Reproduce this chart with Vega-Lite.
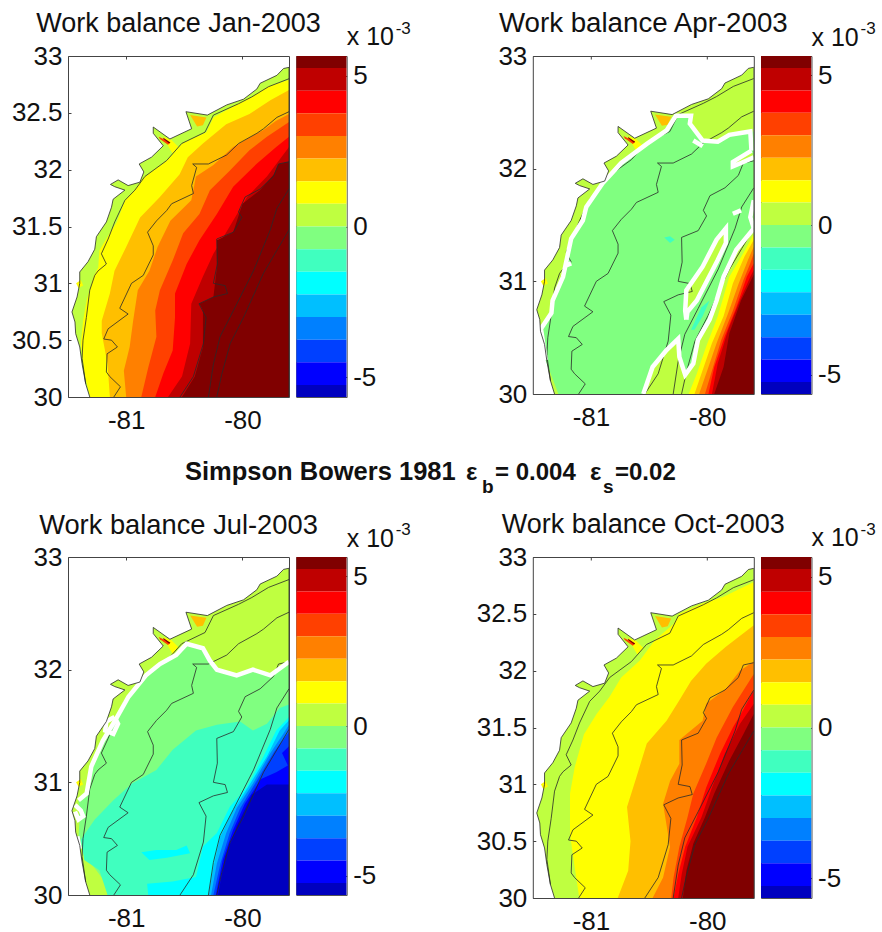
{"$schema":"https://vega.github.io/schema/vega-lite/v6.json","background":"white","padding":{"left":11,"top":10,"right":0,"bottom":0},
"config":{"view":{"stroke":null},"legend":{"disable":true},"font":"Liberation Sans","title":{"font":"Liberation Sans","fontSize":27,"fontWeight":"normal","color":"#111","offset":5},"axis":{"grid":false,"title":null,"labelFont":"Liberation Sans","labelFontSize":26,"labelColor":"#111","labelOverlap":false,"labelBound":false,"labelFlush":false,"tickSize":-3,"tickColor":"#444","domainColor":"#444","zindex":1,"labelExpr":"''+datum.value"}},
"datasets":{
"bar":[{"b":7,"lo":5.25,"hi":5.65},{"b":6,"lo":4.5,"hi":5.25},{"b":5,"lo":3.75,"hi":4.5},{"b":4,"lo":3,"hi":3.75},{"b":3,"lo":2.25,"hi":3},{"b":2,"lo":1.5,"hi":2.25},{"b":1,"lo":0.75,"hi":1.5},{"b":0,"lo":0,"hi":0.75},{"b":-1,"lo":-0.75,"hi":0},{"b":-2,"lo":-1.5,"hi":-0.75},{"b":-3,"lo":-2.25,"hi":-1.5},{"b":-4,"lo":-3,"hi":-2.25},{"b":-5,"lo":-3.75,"hi":-3},{"b":-6,"lo":-4.5,"hi":-3.75},{"b":-7,"lo":-5.25,"hi":-4.5},{"b":-8,"lo":-5.65,"hi":-5.25}],
"xt":[{"t":"x 10","u":1,"v":6.0,"k":"a"}],
"xs":[{"t":"-3","u":1.97,"v":6.38,"k":"b"}],
"coast":[{"g":0,"b":0,"x":-81.313,"y":30},{"g":0,"b":0,"x":-81.348,"y":30.117},{"g":0,"b":0,"x":-81.379,"y":30.293},{"g":0,"b":0,"x":-81.399,"y":30.44},{"g":0,"b":0,"x":-81.434,"y":30.557},{"g":0,"b":0,"x":-81.44,"y":30.66},{"g":0,"b":0,"x":-81.466,"y":30.748},{"g":0,"b":0,"x":-81.422,"y":30.88},{"g":0,"b":0,"x":-81.399,"y":31.0},{"g":0,"b":0,"x":-81.399,"y":31.1},{"g":0,"b":0,"x":-81.328,"y":31.19},{"g":0,"b":0,"x":-81.27,"y":31.3},{"g":0,"b":0,"x":-81.256,"y":31.41},{"g":0,"b":0,"x":-81.17,"y":31.54},{"g":0,"b":0,"x":-81.126,"y":31.67},{"g":0,"b":0,"x":-81.112,"y":31.74},{"g":0,"b":0,"x":-81.011,"y":31.82},{"g":0,"b":0,"x":-81.098,"y":31.85},{"g":0,"b":0,"x":-81.135,"y":31.87},{"g":0,"b":0,"x":-81.069,"y":31.91},{"g":0,"b":0,"x":-80.983,"y":31.86},{"g":0,"b":0,"x":-80.882,"y":31.89},{"g":0,"b":0,"x":-80.848,"y":31.98},{"g":0,"b":0,"x":-80.888,"y":32.05},{"g":0,"b":0,"x":-80.782,"y":32.11},{"g":0,"b":0,"x":-80.681,"y":32.21},{"g":0,"b":0,"x":-80.767,"y":32.32},{"g":0,"b":0,"x":-80.767,"y":32.375},{"g":0,"b":0,"x":-80.624,"y":32.27},{"g":0,"b":0,"x":-80.437,"y":32.36},{"g":0,"b":0,"x":-80.486,"y":32.51},{"g":0,"b":0,"x":-80.302,"y":32.48},{"g":0,"b":0,"x":-80.135,"y":32.57},{"g":0,"b":0,"x":-79.991,"y":32.62},{"g":0,"b":0,"x":-79.876,"y":32.71},{"g":0,"b":0,"x":-79.848,"y":32.76},{"g":0,"b":0,"x":-79.704,"y":32.83},{"g":0,"b":0,"x":-79.647,"y":32.89},{"g":0,"b":0,"x":-79.6,"y":32.9},{"g":0,"b":0,"x":-79.6,"y":30}],
"lines":[{"g":"A","x":-81.348,"y":30.117},{"g":"A","x":-81.379,"y":30.34},{"g":"A","x":-81.371,"y":30.5},{"g":"A","x":-81.342,"y":30.7},{"g":"A","x":-81.313,"y":30.94},{"g":"A","x":-81.27,"y":31.07},{"g":"A","x":-81.241,"y":31.11},{"g":"A","x":-81.17,"y":31.17},{"g":"A","x":-81.213,"y":31.26},{"g":"A","x":-81.155,"y":31.39},{"g":"A","x":-81.098,"y":31.54},{"g":"A","x":-81.011,"y":31.73},{"g":"A","x":-80.925,"y":31.82},{"g":"A","x":-80.839,"y":31.94},{"g":"A","x":-80.652,"y":32.08},{"g":"A","x":-80.523,"y":32.23},{"g":"A","x":-80.322,"y":32.33},{"g":"A","x":-80.25,"y":32.48},{"g":"A","x":-80.034,"y":32.58},{"g":"A","x":-79.92,"y":32.64},{"g":"A","x":-79.776,"y":32.73},{"g":"A","x":-79.6,"y":32.8},
{"g":"B","x":-81.106,"y":30},{"g":"B","x":-81.049,"y":30.09},{"g":"B","x":-81.141,"y":30.18},{"g":"B","x":-81.17,"y":30.22},{"g":"B","x":-81.164,"y":30.38},{"g":"B","x":-81.075,"y":30.44},{"g":"B","x":-81.126,"y":30.5},{"g":"B","x":-81.193,"y":30.51},{"g":"B","x":-81.155,"y":30.6},{"g":"B","x":-80.983,"y":30.73},{"g":"B","x":-81.055,"y":30.78},{"g":"B","x":-80.954,"y":31.0},{"g":"B","x":-80.853,"y":31.07},{"g":"B","x":-80.767,"y":31.25},{"g":"B","x":-80.767,"y":31.33},{"g":"B","x":-80.816,"y":31.45},{"g":"B","x":-80.739,"y":31.55},{"g":"B","x":-80.652,"y":31.64},{"g":"B","x":-80.609,"y":31.7},{"g":"B","x":-80.422,"y":31.79},{"g":"B","x":-80.437,"y":31.86},{"g":"B","x":-80.394,"y":32.02},{"g":"B","x":-80.428,"y":32.05},{"g":"B","x":-80.293,"y":32.05},{"g":"B","x":-80.135,"y":32.13},{"g":"B","x":-80.034,"y":32.23},{"g":"B","x":-79.876,"y":32.32},{"g":"B","x":-79.819,"y":32.36},{"g":"B","x":-79.704,"y":32.46},{"g":"B","x":-79.6,"y":32.51},
{"g":"C","x":-80.537,"y":30},{"g":"C","x":-80.422,"y":30.18},{"g":"C","x":-80.336,"y":30.47},{"g":"C","x":-80.313,"y":30.7},{"g":"C","x":-80.374,"y":30.82},{"g":"C","x":-80.25,"y":30.88},{"g":"C","x":-80.129,"y":30.91},{"g":"C","x":-80.149,"y":30.98},{"g":"C","x":-80.25,"y":31.0},{"g":"C","x":-80.216,"y":31.17},{"g":"C","x":-80.221,"y":31.39},{"g":"C","x":-80.078,"y":31.45},{"g":"C","x":-80.006,"y":31.58},{"g":"C","x":-80.034,"y":31.63},{"g":"C","x":-79.977,"y":31.76},{"g":"C","x":-79.848,"y":31.83},{"g":"C","x":-79.733,"y":31.94},{"g":"C","x":-79.69,"y":32.05},{"g":"C","x":-79.6,"y":32.07},
{"g":"D","x":-80.293,"y":30},{"g":"D","x":-80.25,"y":30.29},{"g":"D","x":-80.193,"y":30.53},{"g":"D","x":-80.078,"y":30.76},{"g":"D","x":-79.905,"y":31.11},{"g":"D","x":-79.761,"y":31.47},{"g":"D","x":-79.704,"y":31.66},{"g":"D","x":-79.6,"y":31.83},
{"g":"E","x":-80.221,"y":30},{"g":"E","x":-80.178,"y":30.2},{"g":"E","x":-80.106,"y":30.47},{"g":"E","x":-79.991,"y":30.7},{"g":"E","x":-79.819,"y":31.09},{"g":"E","x":-79.704,"y":31.29},{"g":"E","x":-79.6,"y":31.47}],
"spots":[{"g":1,"b":2,"x":-80.45,"y":32.48},{"g":1,"b":2,"x":-80.31,"y":32.46},{"g":1,"b":2,"x":-80.34,"y":32.39},{"g":1,"b":2,"x":-80.39,"y":32.38},
{"g":2,"b":1,"x":-80.68,"y":32.29},{"g":2,"b":1,"x":-80.61,"y":32.26},{"g":2,"b":1,"x":-80.55,"y":32.2},{"g":2,"b":1,"x":-80.6,"y":32.14},{"g":2,"b":1,"x":-80.64,"y":32.21},
{"g":3,"b":4,"x":-80.72,"y":32.29},{"g":3,"b":4,"x":-80.62,"y":32.24},{"g":3,"b":4,"x":-80.64,"y":32.22},{"g":3,"b":4,"x":-80.71,"y":32.27},
{"g":4,"b":7,"x":-80.68,"y":32.28},{"g":4,"b":7,"x":-80.62,"y":32.24},{"g":4,"b":7,"x":-80.63,"y":32.23},{"g":4,"b":7,"x":-80.68,"y":32.27},
{"g":5,"b":1,"x":-81.43,"y":31.0},{"g":5,"b":1,"x":-81.39,"y":31.03},{"g":5,"b":1,"x":-81.37,"y":30.98},{"g":5,"b":1,"x":-81.41,"y":30.96}],
"jan":[{"g":1,"b":1,"x":-81.31,"y":30},{"g":1,"b":1,"x":-81.36,"y":30.21},{"g":1,"b":1,"x":-81.39,"y":30.47},{"g":1,"b":1,"x":-81.37,"y":30.67},{"g":1,"b":1,"x":-81.34,"y":30.85},{"g":1,"b":1,"x":-81.28,"y":31.06},{"g":1,"b":1,"x":-81.24,"y":31.14},{"g":1,"b":1,"x":-81.23,"y":31.29},{"g":1,"b":1,"x":-81.16,"y":31.41},{"g":1,"b":1,"x":-81.08,"y":31.54},{"g":1,"b":1,"x":-81.01,"y":31.73},{"g":1,"b":1,"x":-80.93,"y":31.82},{"g":1,"b":1,"x":-80.84,"y":31.94},{"g":1,"b":1,"x":-80.65,"y":32.08},{"g":1,"b":1,"x":-80.52,"y":32.23},{"g":1,"b":1,"x":-80.31,"y":32.33},{"g":1,"b":1,"x":-80.25,"y":32.46},{"g":1,"b":1,"x":-80.04,"y":32.58},{"g":1,"b":1,"x":-79.92,"y":32.64},{"g":1,"b":1,"x":-79.78,"y":32.73},{"g":1,"b":1,"x":-79.6,"y":32.79},{"g":1,"b":1,"x":-79.6,"y":30},
{"g":2,"b":2,"x":-81.14,"y":30},{"g":2,"b":2,"x":-81.16,"y":30.29},{"g":2,"b":2,"x":-81.21,"y":30.56},{"g":2,"b":2,"x":-81.21,"y":30.67},{"g":2,"b":2,"x":-81.14,"y":30.91},{"g":2,"b":2,"x":-81.1,"y":31.11},{"g":2,"b":2,"x":-81.0,"y":31.32},{"g":2,"b":2,"x":-80.88,"y":31.58},{"g":2,"b":2,"x":-80.71,"y":31.76},{"g":2,"b":2,"x":-80.54,"y":31.96},{"g":2,"b":2,"x":-80.47,"y":32.11},{"g":2,"b":2,"x":-80.34,"y":32.23},{"g":2,"b":2,"x":-80.14,"y":32.4},{"g":2,"b":2,"x":-79.94,"y":32.49},{"g":2,"b":2,"x":-79.76,"y":32.61},{"g":2,"b":2,"x":-79.6,"y":32.7},{"g":2,"b":2,"x":-79.6,"y":30},
{"g":3,"b":3,"x":-81.0,"y":30},{"g":3,"b":3,"x":-81.02,"y":30.23},{"g":3,"b":3,"x":-80.97,"y":30.44},{"g":3,"b":3,"x":-80.94,"y":30.67},{"g":3,"b":3,"x":-80.9,"y":30.94},{"g":3,"b":3,"x":-80.8,"y":31.11},{"g":3,"b":3,"x":-80.73,"y":31.32},{"g":3,"b":3,"x":-80.62,"y":31.55},{"g":3,"b":3,"x":-80.44,"y":31.73},{"g":3,"b":3,"x":-80.4,"y":31.94},{"g":3,"b":3,"x":-80.25,"y":32.04},{"g":3,"b":3,"x":-80.08,"y":32.2},{"g":3,"b":3,"x":-79.82,"y":32.35},{"g":3,"b":3,"x":-79.71,"y":32.43},{"g":3,"b":3,"x":-79.6,"y":32.49},{"g":3,"b":3,"x":-79.6,"y":30},
{"g":4,"b":4,"x":-80.87,"y":30},{"g":4,"b":4,"x":-80.81,"y":30.26},{"g":4,"b":4,"x":-80.74,"y":30.53},{"g":4,"b":4,"x":-80.75,"y":30.76},{"g":4,"b":4,"x":-80.71,"y":30.94},{"g":4,"b":4,"x":-80.6,"y":31.2},{"g":4,"b":4,"x":-80.51,"y":31.44},{"g":4,"b":4,"x":-80.37,"y":31.61},{"g":4,"b":4,"x":-80.28,"y":31.82},{"g":4,"b":4,"x":-80.11,"y":31.99},{"g":4,"b":4,"x":-79.94,"y":32.17},{"g":4,"b":4,"x":-79.79,"y":32.29},{"g":4,"b":4,"x":-79.6,"y":32.42},{"g":4,"b":4,"x":-79.6,"y":30},
{"g":5,"b":5,"x":-80.75,"y":30},{"g":5,"b":5,"x":-80.68,"y":30.21},{"g":5,"b":5,"x":-80.6,"y":30.41},{"g":5,"b":5,"x":-80.58,"y":30.7},{"g":5,"b":5,"x":-80.58,"y":30.91},{"g":5,"b":5,"x":-80.48,"y":31.17},{"g":5,"b":5,"x":-80.37,"y":31.38},{"g":5,"b":5,"x":-80.22,"y":31.61},{"g":5,"b":5,"x":-80.08,"y":31.85},{"g":5,"b":5,"x":-79.88,"y":32.05},{"g":5,"b":5,"x":-79.71,"y":32.2},{"g":5,"b":5,"x":-79.6,"y":32.29},{"g":5,"b":5,"x":-79.6,"y":30},
{"g":6,"b":6,"x":-80.64,"y":30},{"g":6,"b":6,"x":-80.52,"y":30.18},{"g":6,"b":6,"x":-80.45,"y":30.47},{"g":6,"b":6,"x":-80.44,"y":30.82},{"g":6,"b":6,"x":-80.34,"y":31.06},{"g":6,"b":6,"x":-80.25,"y":31.26},{"g":6,"b":6,"x":-80.11,"y":31.5},{"g":6,"b":6,"x":-79.96,"y":31.76},{"g":6,"b":6,"x":-79.79,"y":31.94},{"g":6,"b":6,"x":-79.6,"y":32.2},{"g":6,"b":6,"x":-79.6,"y":30},
{"g":7,"b":7,"x":-80.52,"y":30},{"g":7,"b":7,"x":-80.41,"y":30.18},{"g":7,"b":7,"x":-80.34,"y":30.44},{"g":7,"b":7,"x":-80.34,"y":30.76},{"g":7,"b":7,"x":-80.37,"y":30.82},{"g":7,"b":7,"x":-80.25,"y":30.88},{"g":7,"b":7,"x":-80.22,"y":31.14},{"g":7,"b":7,"x":-80.22,"y":31.38},{"g":7,"b":7,"x":-80.08,"y":31.45},{"g":7,"b":7,"x":-80.0,"y":31.7},{"g":7,"b":7,"x":-79.85,"y":31.82},{"g":7,"b":7,"x":-79.73,"y":31.96},{"g":7,"b":7,"x":-79.69,"y":32.05},{"g":7,"b":7,"x":-79.6,"y":32.07},{"g":7,"b":7,"x":-79.6,"y":30}],
"apr":[{"g":1,"b":-1,"x":-81.28,"y":30},{"g":1,"b":-1,"x":-81.39,"y":30.3},{"g":1,"b":-1,"x":-81.43,"y":30.58},{"g":1,"b":-1,"x":-81.34,"y":30.72},{"g":1,"b":-1,"x":-81.33,"y":30.83},{"g":1,"b":-1,"x":-81.24,"y":31.04},{"g":1,"b":-1,"x":-81.17,"y":31.38},{"g":1,"b":-1,"x":-81.07,"y":31.54},{"g":1,"b":-1,"x":-81.04,"y":31.66},{"g":1,"b":-1,"x":-80.9,"y":31.87},{"g":1,"b":-1,"x":-80.74,"y":32.05},{"g":1,"b":-1,"x":-80.52,"y":32.22},{"g":1,"b":-1,"x":-80.35,"y":32.34},{"g":1,"b":-1,"x":-80.27,"y":32.47},{"g":1,"b":-1,"x":-80.14,"y":32.47},{"g":1,"b":-1,"x":-80.15,"y":32.4},{"g":1,"b":-1,"x":-80.04,"y":32.25},{"g":1,"b":-1,"x":-79.91,"y":32.24},{"g":1,"b":-1,"x":-79.81,"y":32.3},{"g":1,"b":-1,"x":-79.6,"y":32.33},{"g":1,"b":-1,"x":-79.6,"y":31.47},{"g":1,"b":-1,"x":-79.75,"y":31.28},{"g":1,"b":-1,"x":-79.86,"y":31.04},{"g":1,"b":-1,"x":-79.92,"y":30.83},{"g":1,"b":-1,"x":-79.98,"y":30.66},{"g":1,"b":-1,"x":-80.08,"y":30.48},{"g":1,"b":-1,"x":-80.12,"y":30.27},{"g":1,"b":-1,"x":-80.19,"y":30.17},{"g":1,"b":-1,"x":-80.24,"y":30.33},{"g":1,"b":-1,"x":-80.25,"y":30.49},{"g":1,"b":-1,"x":-80.35,"y":30.39},{"g":1,"b":-1,"x":-80.47,"y":30.24},{"g":1,"b":-1,"x":-80.55,"y":30},
{"g":2,"b":0,"x":-80.18,"y":30.66},{"g":2,"b":0,"x":-80.19,"y":30.74},{"g":2,"b":0,"x":-80.18,"y":30.92},{"g":2,"b":0,"x":-80.04,"y":31.13},{"g":2,"b":0,"x":-79.92,"y":31.37},{"g":2,"b":0,"x":-79.84,"y":31.47},{"g":2,"b":0,"x":-79.84,"y":31.34},{"g":2,"b":0,"x":-79.91,"y":31.19},{"g":2,"b":0,"x":-80.09,"y":30.83},{"g":2,"b":0,"x":-80.17,"y":30.73},
{"g":3,"b":0,"x":-79.78,"y":32.06},{"g":3,"b":0,"x":-79.62,"y":32.16},{"g":3,"b":0,"x":-79.6,"y":32.1},{"g":3,"b":0,"x":-79.71,"y":32.05},{"g":3,"b":0,"x":-79.78,"y":32.02},
{"g":4,"b":-2,"x":-80.14,"y":30.57},{"g":4,"b":-2,"x":-80.05,"y":30.77},{"g":4,"b":-2,"x":-79.98,"y":30.83},{"g":4,"b":-2,"x":-80.04,"y":30.69},{"g":4,"b":-2,"x":-80.11,"y":30.57},
{"g":5,"b":-2,"x":-80.37,"y":31.39},{"g":5,"b":-2,"x":-80.32,"y":31.4},{"g":5,"b":-2,"x":-80.28,"y":31.37},{"g":5,"b":-2,"x":-80.32,"y":31.34},
{"g":6,"b":1,"x":-80.16,"y":30},{"g":6,"b":1,"x":-80.09,"y":30.18},{"g":6,"b":1,"x":-80.01,"y":30.42},{"g":6,"b":1,"x":-79.91,"y":30.69},{"g":6,"b":1,"x":-79.81,"y":31.04},{"g":6,"b":1,"x":-79.69,"y":31.25},{"g":6,"b":1,"x":-79.6,"y":31.42},{"g":6,"b":1,"x":-79.6,"y":30},
{"g":7,"b":2,"x":-80.11,"y":30},{"g":7,"b":2,"x":-80.04,"y":30.21},{"g":7,"b":2,"x":-79.96,"y":30.45},{"g":7,"b":2,"x":-79.86,"y":30.69},{"g":7,"b":2,"x":-79.78,"y":30.98},{"g":7,"b":2,"x":-79.68,"y":31.22},{"g":7,"b":2,"x":-79.6,"y":31.37},{"g":7,"b":2,"x":-79.6,"y":30},
{"g":8,"b":3,"x":-80.07,"y":30},{"g":8,"b":3,"x":-79.99,"y":30.24},{"g":8,"b":3,"x":-79.92,"y":30.45},{"g":8,"b":3,"x":-79.82,"y":30.72},{"g":8,"b":3,"x":-79.73,"y":30.98},{"g":8,"b":3,"x":-79.65,"y":31.19},{"g":8,"b":3,"x":-79.6,"y":31.31},{"g":8,"b":3,"x":-79.6,"y":30},
{"g":9,"b":4,"x":-80.02,"y":30},{"g":9,"b":4,"x":-79.95,"y":30.24},{"g":9,"b":4,"x":-79.88,"y":30.48},{"g":9,"b":4,"x":-79.78,"y":30.74},{"g":9,"b":4,"x":-79.69,"y":31.01},{"g":9,"b":4,"x":-79.63,"y":31.16},{"g":9,"b":4,"x":-79.6,"y":31.25},{"g":9,"b":4,"x":-79.6,"y":30},
{"g":10,"b":5,"x":-79.99,"y":30},{"g":10,"b":5,"x":-79.94,"y":30.24},{"g":10,"b":5,"x":-79.85,"y":30.51},{"g":10,"b":5,"x":-79.75,"y":30.77},{"g":10,"b":5,"x":-79.66,"y":31.04},{"g":10,"b":5,"x":-79.6,"y":31.16},{"g":10,"b":5,"x":-79.6,"y":30},
{"g":11,"b":6,"x":-79.96,"y":30},{"g":11,"b":6,"x":-79.91,"y":30.27},{"g":11,"b":6,"x":-79.82,"y":30.57},{"g":11,"b":6,"x":-79.72,"y":30.83},{"g":11,"b":6,"x":-79.63,"y":31.04},{"g":11,"b":6,"x":-79.6,"y":31.1},{"g":11,"b":6,"x":-79.6,"y":30},
{"g":12,"b":7,"x":-79.94,"y":30},{"g":12,"b":7,"x":-79.86,"y":30.24},{"g":12,"b":7,"x":-79.81,"y":30.54},{"g":12,"b":7,"x":-79.71,"y":30.83},{"g":12,"b":7,"x":-79.6,"y":31.06},{"g":12,"b":7,"x":-79.6,"y":30}],
"wapr":[{"g":1,"x":-81.39,"y":30.3},{"g":1,"x":-81.43,"y":30.58},{"g":1,"x":-81.34,"y":30.72},{"g":1,"x":-81.33,"y":30.83},{"g":1,"x":-81.24,"y":31.04},{"g":1,"x":-81.17,"y":31.38},{"g":1,"x":-81.07,"y":31.54},{"g":1,"x":-81.04,"y":31.66},{"g":1,"x":-80.9,"y":31.87},{"g":1,"x":-80.74,"y":32.05},{"g":1,"x":-80.52,"y":32.22},{"g":1,"x":-80.35,"y":32.34},{"g":1,"x":-80.27,"y":32.47},{"g":1,"x":-80.14,"y":32.47},{"g":1,"x":-80.15,"y":32.4},{"g":1,"x":-80.04,"y":32.25},{"g":1,"x":-79.91,"y":32.24},{"g":1,"x":-79.81,"y":32.3},{"g":1,"x":-79.63,"y":32.33},{"g":1,"x":-79.62,"y":32.16},
{"g":2,"x":-80.12,"y":32.25},{"g":2,"x":-80.04,"y":32.2},
{"g":3,"x":-79.62,"y":32.16},{"g":3,"x":-79.78,"y":32.06},{"g":3,"x":-79.78,"y":32.02},{"g":3,"x":-79.71,"y":32.05},{"g":3,"x":-79.6,"y":32.1},
{"g":4,"x":-79.6,"y":31.47},{"g":4,"x":-79.75,"y":31.28},{"g":4,"x":-79.86,"y":31.04},{"g":4,"x":-79.92,"y":30.83},{"g":4,"x":-79.98,"y":30.66},{"g":4,"x":-80.08,"y":30.48},{"g":4,"x":-80.12,"y":30.27},{"g":4,"x":-80.19,"y":30.17},{"g":4,"x":-80.24,"y":30.33},{"g":4,"x":-80.25,"y":30.49},{"g":4,"x":-80.35,"y":30.39},{"g":4,"x":-80.47,"y":30.24},{"g":4,"x":-80.55,"y":30},
{"g":5,"x":-80.18,"y":30.66},{"g":5,"x":-80.19,"y":30.74},{"g":5,"x":-80.18,"y":30.92},{"g":5,"x":-80.04,"y":31.13},{"g":5,"x":-79.92,"y":31.37},{"g":5,"x":-79.84,"y":31.47},{"g":5,"x":-79.84,"y":31.34},{"g":5,"x":-79.91,"y":31.19},{"g":5,"x":-80.09,"y":30.83},{"g":5,"x":-80.17,"y":30.73},{"g":5,"x":-80.18,"y":30.66},
{"g":6,"x":-79.6,"y":31.72},{"g":6,"x":-79.63,"y":31.57},{"g":6,"x":-79.6,"y":31.47},
{"g":7,"x":-79.78,"y":31.6},{"g":7,"x":-79.71,"y":31.63},
{"g":8,"x":-81.22,"y":31.14},{"g":8,"x":-81.17,"y":31.16}],
"jul":[{"g":1,"b":-1,"x":-81.16,"y":30},{"g":1,"b":-1,"x":-81.17,"y":30.1},{"g":1,"b":-1,"x":-81.28,"y":30.25},{"g":1,"b":-1,"x":-81.37,"y":30.37},{"g":1,"b":-1,"x":-81.41,"y":30.52},{"g":1,"b":-1,"x":-81.4,"y":30.67},{"g":1,"b":-1,"x":-81.41,"y":30.84},{"g":1,"b":-1,"x":-81.34,"y":30.9},{"g":1,"b":-1,"x":-81.3,"y":31.14},{"g":1,"b":-1,"x":-81.2,"y":31.37},{"g":1,"b":-1,"x":-81.1,"y":31.54},{"g":1,"b":-1,"x":-80.98,"y":31.76},{"g":1,"b":-1,"x":-80.83,"y":31.95},{"g":1,"b":-1,"x":-80.71,"y":32.05},{"g":1,"b":-1,"x":-80.57,"y":32.13},{"g":1,"b":-1,"x":-80.48,"y":32.23},{"g":1,"b":-1,"x":-80.34,"y":32.19},{"g":1,"b":-1,"x":-80.28,"y":32.08},{"g":1,"b":-1,"x":-80.22,"y":32.0},{"g":1,"b":-1,"x":-80.05,"y":31.95},{"g":1,"b":-1,"x":-79.91,"y":32.0},{"g":1,"b":-1,"x":-79.76,"y":31.95},{"g":1,"b":-1,"x":-79.6,"y":32.07},{"g":1,"b":-1,"x":-79.6,"y":30},
{"g":2,"b":-2,"x":-81.16,"y":30},{"g":2,"b":-2,"x":-81.23,"y":30.22},{"g":2,"b":-2,"x":-81.36,"y":30.31},{"g":2,"b":-2,"x":-81.39,"y":30.49},{"g":2,"b":-2,"x":-81.27,"y":30.67},{"g":2,"b":-2,"x":-81.11,"y":30.84},{"g":2,"b":-2,"x":-80.95,"y":30.99},{"g":2,"b":-2,"x":-80.74,"y":31.11},{"g":2,"b":-2,"x":-80.6,"y":31.29},{"g":2,"b":-2,"x":-80.4,"y":31.46},{"g":2,"b":-2,"x":-80.22,"y":31.51},{"g":2,"b":-2,"x":-80.02,"y":31.54},{"g":2,"b":-2,"x":-79.91,"y":31.46},{"g":2,"b":-2,"x":-79.79,"y":31.52},{"g":2,"b":-2,"x":-79.68,"y":31.66},{"g":2,"b":-2,"x":-79.6,"y":31.69},{"g":2,"b":-2,"x":-79.6,"y":30},
{"g":3,"b":-3,"x":-80.81,"y":30},{"g":3,"b":-3,"x":-80.82,"y":30.1},{"g":3,"b":-3,"x":-80.6,"y":30.12},{"g":3,"b":-3,"x":-80.4,"y":30.16},{"g":3,"b":-3,"x":-80.34,"y":30.43},{"g":3,"b":-3,"x":-80.22,"y":30.55},{"g":3,"b":-3,"x":-80.11,"y":30.78},{"g":3,"b":-3,"x":-79.96,"y":30.96},{"g":3,"b":-3,"x":-79.82,"y":31.23},{"g":3,"b":-3,"x":-79.71,"y":31.46},{"g":3,"b":-3,"x":-79.6,"y":31.58},{"g":3,"b":-3,"x":-79.6,"y":30},
{"g":4,"b":-3,"x":-80.87,"y":30.38},{"g":4,"b":-3,"x":-80.74,"y":30.4},{"g":4,"b":-3,"x":-80.57,"y":30.4},{"g":4,"b":-3,"x":-80.48,"y":30.44},{"g":4,"b":-3,"x":-80.45,"y":30.37},{"g":4,"b":-3,"x":-80.65,"y":30.33},{"g":4,"b":-3,"x":-80.8,"y":30.31},
{"g":5,"b":-4,"x":-80.29,"y":30},{"g":5,"b":-4,"x":-80.25,"y":30.25},{"g":5,"b":-4,"x":-80.19,"y":30.52},{"g":5,"b":-4,"x":-80.08,"y":30.75},{"g":5,"b":-4,"x":-79.95,"y":30.96},{"g":5,"b":-4,"x":-79.79,"y":31.23},{"g":5,"b":-4,"x":-79.68,"y":31.46},{"g":5,"b":-4,"x":-79.6,"y":31.55},{"g":5,"b":-4,"x":-79.6,"y":30},
{"g":6,"b":-5,"x":-80.27,"y":30},{"g":6,"b":-5,"x":-80.22,"y":30.28},{"g":6,"b":-5,"x":-80.14,"y":30.55},{"g":6,"b":-5,"x":-80.05,"y":30.77},{"g":6,"b":-5,"x":-79.91,"y":30.99},{"g":6,"b":-5,"x":-79.76,"y":31.26},{"g":6,"b":-5,"x":-79.65,"y":31.43},{"g":6,"b":-5,"x":-79.6,"y":31.51},{"g":6,"b":-5,"x":-79.6,"y":30},
{"g":7,"b":-6,"x":-80.25,"y":30},{"g":7,"b":-6,"x":-80.19,"y":30.28},{"g":7,"b":-6,"x":-80.11,"y":30.55},{"g":7,"b":-6,"x":-80.02,"y":30.77},{"g":7,"b":-6,"x":-79.88,"y":31.01},{"g":7,"b":-6,"x":-79.73,"y":31.27},{"g":7,"b":-6,"x":-79.6,"y":31.45},{"g":7,"b":-6,"x":-79.6,"y":30},
{"g":8,"b":-7,"x":-80.23,"y":30},{"g":8,"b":-7,"x":-80.17,"y":30.31},{"g":8,"b":-7,"x":-80.08,"y":30.58},{"g":8,"b":-7,"x":-79.98,"y":30.81},{"g":8,"b":-7,"x":-79.84,"y":31.03},{"g":8,"b":-7,"x":-79.71,"y":31.09},{"g":8,"b":-7,"x":-79.61,"y":31.15},{"g":8,"b":-7,"x":-79.66,"y":31.26},{"g":8,"b":-7,"x":-79.6,"y":31.32},{"g":8,"b":-7,"x":-79.6,"y":30},
{"g":9,"b":-8,"x":-80.21,"y":30},{"g":9,"b":-8,"x":-80.15,"y":30.34},{"g":9,"b":-8,"x":-80.05,"y":30.61},{"g":9,"b":-8,"x":-79.92,"y":30.89},{"g":9,"b":-8,"x":-79.79,"y":30.98},{"g":9,"b":-8,"x":-79.6,"y":30.98},{"g":9,"b":-8,"x":-79.6,"y":30}],
"wjul":[{"g":1,"x":-81.41,"y":30.84},{"g":1,"x":-81.34,"y":30.9},{"g":1,"x":-81.3,"y":31.14},{"g":1,"x":-81.2,"y":31.37},{"g":1,"x":-81.1,"y":31.54},{"g":1,"x":-80.98,"y":31.76},{"g":1,"x":-80.83,"y":31.95},{"g":1,"x":-80.71,"y":32.05},{"g":1,"x":-80.57,"y":32.13},{"g":1,"x":-80.48,"y":32.23},{"g":1,"x":-80.34,"y":32.19},{"g":1,"x":-80.28,"y":32.08},{"g":1,"x":-80.22,"y":32.0},{"g":1,"x":-80.05,"y":31.95},{"g":1,"x":-79.91,"y":32.0},{"g":1,"x":-79.76,"y":31.95},{"g":1,"x":-79.6,"y":32.07},
{"g":2,"x":-81.44,"y":30.8},{"g":2,"x":-81.39,"y":30.75},{"g":2,"x":-81.37,"y":30.7},{"g":2,"x":-81.41,"y":30.67},{"g":2,"x":-81.44,"y":30.74},
{"g":3,"x":-81.1,"y":31.58},{"g":3,"x":-81.17,"y":31.54},{"g":3,"x":-81.18,"y":31.46},{"g":3,"x":-81.11,"y":31.43},{"g":3,"x":-81.07,"y":31.52},{"g":3,"x":-81.1,"y":31.58},
{"g":4,"x":-81.42,"y":30.52},{"g":4,"x":-81.4,"y":30.41}],
"oct":[{"g":1,"b":1,"x":-81.1,"y":30},{"g":1,"b":1,"x":-81.14,"y":30.27},{"g":1,"b":1,"x":-81.18,"y":30.56},{"g":1,"b":1,"x":-81.18,"y":30.92},{"g":1,"b":1,"x":-81.14,"y":31.15},{"g":1,"b":1,"x":-81.06,"y":31.44},{"g":1,"b":1,"x":-80.95,"y":31.62},{"g":1,"b":1,"x":-80.84,"y":31.77},{"g":1,"b":1,"x":-80.74,"y":31.94},{"g":1,"b":1,"x":-80.58,"y":32.09},{"g":1,"b":1,"x":-80.45,"y":32.27},{"g":1,"b":1,"x":-80.29,"y":32.41},{"g":1,"b":1,"x":-80.24,"y":32.5},{"g":1,"b":1,"x":-80.04,"y":32.59},{"g":1,"b":1,"x":-79.86,"y":32.65},{"g":1,"b":1,"x":-79.72,"y":32.72},{"g":1,"b":1,"x":-79.6,"y":32.78},{"g":1,"b":1,"x":-79.6,"y":30},
{"g":2,"b":2,"x":-80.77,"y":30},{"g":2,"b":2,"x":-80.68,"y":30.24},{"g":2,"b":2,"x":-80.66,"y":30.5},{"g":2,"b":2,"x":-80.69,"y":30.8},{"g":2,"b":2,"x":-80.61,"y":31.06},{"g":2,"b":2,"x":-80.52,"y":31.36},{"g":2,"b":2,"x":-80.35,"y":31.56},{"g":2,"b":2,"x":-80.24,"y":31.74},{"g":2,"b":2,"x":-80.14,"y":31.91},{"g":2,"b":2,"x":-80.01,"y":32.06},{"g":2,"b":2,"x":-79.84,"y":32.21},{"g":2,"b":2,"x":-79.6,"y":32.4},{"g":2,"b":2,"x":-79.6,"y":30},
{"g":3,"b":3,"x":-80.47,"y":30},{"g":3,"b":3,"x":-80.38,"y":30.18},{"g":3,"b":3,"x":-80.32,"y":30.45},{"g":3,"b":3,"x":-80.38,"y":30.83},{"g":3,"b":3,"x":-80.32,"y":31.03},{"g":3,"b":3,"x":-80.24,"y":31.18},{"g":3,"b":3,"x":-80.24,"y":31.39},{"g":3,"b":3,"x":-80.04,"y":31.56},{"g":3,"b":3,"x":-80.01,"y":31.71},{"g":3,"b":3,"x":-79.84,"y":31.84},{"g":3,"b":3,"x":-79.72,"y":32.0},{"g":3,"b":3,"x":-79.6,"y":32.08},{"g":3,"b":3,"x":-79.6,"y":30},
{"g":4,"b":4,"x":-80.31,"y":30},{"g":4,"b":4,"x":-80.29,"y":30.18},{"g":4,"b":4,"x":-80.24,"y":30.45},{"g":4,"b":4,"x":-80.17,"y":30.71},{"g":4,"b":4,"x":-80.12,"y":30.92},{"g":4,"b":4,"x":-80.01,"y":31.18},{"g":4,"b":4,"x":-79.92,"y":31.41},{"g":4,"b":4,"x":-79.78,"y":31.68},{"g":4,"b":4,"x":-79.6,"y":31.97},{"g":4,"b":4,"x":-79.6,"y":30},
{"g":5,"b":5,"x":-80.29,"y":30},{"g":5,"b":5,"x":-80.25,"y":30.21},{"g":5,"b":5,"x":-80.19,"y":30.45},{"g":5,"b":5,"x":-80.09,"y":30.71},{"g":5,"b":5,"x":-80.01,"y":30.97},{"g":5,"b":5,"x":-79.89,"y":31.27},{"g":5,"b":5,"x":-79.78,"y":31.5},{"g":5,"b":5,"x":-79.71,"y":31.62},{"g":5,"b":5,"x":-79.6,"y":31.83},{"g":5,"b":5,"x":-79.6,"y":30},
{"g":6,"b":6,"x":-80.25,"y":30},{"g":6,"b":6,"x":-80.22,"y":30.21},{"g":6,"b":6,"x":-80.17,"y":30.45},{"g":6,"b":6,"x":-80.05,"y":30.71},{"g":6,"b":6,"x":-79.96,"y":30.97},{"g":6,"b":6,"x":-79.85,"y":31.27},{"g":6,"b":6,"x":-79.72,"y":31.53},{"g":6,"b":6,"x":-79.6,"y":31.71},{"g":6,"b":6,"x":-79.6,"y":30},
{"g":7,"b":7,"x":-80.21,"y":30},{"g":7,"b":7,"x":-80.18,"y":30.24},{"g":7,"b":7,"x":-80.12,"y":30.48},{"g":7,"b":7,"x":-80.02,"y":30.71},{"g":7,"b":7,"x":-79.94,"y":30.92},{"g":7,"b":7,"x":-79.81,"y":31.21},{"g":7,"b":7,"x":-79.69,"y":31.44},{"g":7,"b":7,"x":-79.6,"y":31.62},{"g":7,"b":7,"x":-79.6,"y":30}]
},
"vconcat":[
{"hconcat":[
 {"bounds":"flush","hconcat":[
  {"width":221,"height":341,"title":"Work balance Jan-2003","resolve":{"axis":{"x":"independent","y":"independent"}},
   "encoding":{"x":{"field":"x","type":"quantitative","scale":{"domain":[-81.5,-79.6],"nice":false,"zero":false},"axis":null},"y":{"field":"y","type":"quantitative","scale":{"domain":[30,33],"nice":false,"zero":false},"axis":null},"order":{"value":null},"detail":{"field":"g"}},
   "layer":[
    {"data":{"name":"coast"},"mark":{"type":"line","strokeWidth":0,"clip":true},"encoding":{"fill":{"field":"b","type":"ordinal"},
      "x":{"field":"x","type":"quantitative","scale":{"domain":[-81.5,-79.6],"nice":false,"zero":false},"axis":{"orient":"bottom","values":[-81,-80],"labelPadding":13}},
      "y":{"field":"y","type":"quantitative","scale":{"domain":[30,33],"nice":false,"zero":false},"axis":{"orient":"left","values":[30,30.5,31,31.5,32,32.5,33],"labelPadding":9}}}},
    {"data":{"name":"jan"},"mark":{"type":"line","strokeWidth":0,"clip":true},"encoding":{"fill":{"field":"b","type":"ordinal"}}},
    {"data":{"name":"spots"},"mark":{"type":"line","strokeWidth":0,"clip":true},"encoding":{"fill":{"field":"b","type":"ordinal"}}},
    {"data":{"name":"lines"},"mark":{"type":"line","stroke":"#2a2a2a","strokeWidth":0.8,"clip":true}},
    {"data":{"name":"coast"},"mark":{"type":"line","stroke":"#2a2a2a","strokeWidth":0.8,"clip":true},
      "encoding":{"x":{"field":"x","type":"quantitative","scale":{"domain":[-81.5,-79.6],"nice":false,"zero":false},"axis":{"orient":"top","values":[-81,-80],"labels":false}},
      "y":{"field":"y","type":"quantitative","scale":{"domain":[30,33],"nice":false,"zero":false},"axis":{"orient":"right","labels":false,"ticks":false}}}}
   ]},
  {"width":50.5,"height":341,"view":{"stroke":"#555"},
   "layer":[
    {"data":{"name":"bar"},"mark":{"type":"rect","clip":true},"encoding":{"x":{"datum":0,"type":"quantitative","scale":{"domain":[0,1]},"axis":null},"x2":{"datum":1},"y":{"field":"lo","type":"quantitative","scale":{"domain":[-5.65,5.65],"nice":false,"zero":false},"axis":{"orient":"right","values":[-5,0,5],"labelPadding":9,"domain":false}},"y2":{"field":"hi"},"fill":{"field":"b","type":"ordinal","scale":{"domain":[-8,-7,-6,-5,-4,-3,-2,-1,0,1,2,3,4,5,6,7],"range":["#0000BF","#0000FF","#0040FF","#0080FF","#00BFFF","#00FFFF","#40FFBF","#80FF80","#BFFF40","#FFFF00","#FFBF00","#FF8000","#FF4000","#FF0000","#BF0000","#800000"]}}}},
    {"data":{"name":"xt"},"mark":{"type":"text","align":"left","baseline":"alphabetic","fontSize":25,"color":"#111"},"encoding":{"x":{"field":"u","type":"quantitative","scale":{"domain":[0,1]},"axis":null},"y":{"field":"v","type":"quantitative","scale":{"domain":[-5.65,5.65],"nice":false,"zero":false},"axis":{"orient":"right","values":[-5,0,5],"labelPadding":9,"domain":false}},"text":{"field":"t"}}},
    {"data":{"name":"xs"},"mark":{"type":"text","align":"left","baseline":"alphabetic","fontSize":17,"color":"#111"},"encoding":{"x":{"field":"u","type":"quantitative","scale":{"domain":[0,1]},"axis":null},"y":{"field":"v","type":"quantitative","scale":{"domain":[-5.65,5.65],"nice":false,"zero":false},"axis":{"orient":"right","values":[-5,0,5],"labelPadding":9,"domain":false}},"text":{"field":"t"}}}
   ]}
 ],"spacing":7.2},
 {"bounds":"flush","hconcat":[
  {"width":221,"height":338,"title":{"text":"Work balance Apr-2003","fontSize":27.7},"resolve":{"axis":{"x":"independent","y":"independent"}},
   "encoding":{"x":{"field":"x","type":"quantitative","scale":{"domain":[-81.5,-79.6],"nice":false,"zero":false},"axis":null},"y":{"field":"y","type":"quantitative","scale":{"domain":[30,33],"nice":false,"zero":false},"axis":null},"order":{"value":null},"detail":{"field":"g"}},
   "layer":[
    {"data":{"name":"coast"},"mark":{"type":"line","strokeWidth":0,"clip":true},"encoding":{"fill":{"field":"b","type":"ordinal"},
      "x":{"field":"x","type":"quantitative","scale":{"domain":[-81.5,-79.6],"nice":false,"zero":false},"axis":{"orient":"bottom","values":[-81,-80],"labelPadding":13}},
      "y":{"field":"y","type":"quantitative","scale":{"domain":[30,33],"nice":false,"zero":false},"axis":{"orient":"left","values":[30,31,32,33],"labelPadding":9}}}},
    {"data":{"name":"apr"},"mark":{"type":"line","strokeWidth":0,"clip":true},"encoding":{"fill":{"field":"b","type":"ordinal"}}},
    {"data":{"name":"spots"},"mark":{"type":"line","strokeWidth":0,"clip":true},"encoding":{"fill":{"field":"b","type":"ordinal"}}},
    {"data":{"name":"lines"},"mark":{"type":"line","stroke":"#2a2a2a","strokeWidth":0.8,"clip":true}},
    {"data":{"name":"wapr"},"mark":{"type":"line","stroke":"#ffffff","strokeWidth":4.5,"clip":true}},
    {"data":{"name":"coast"},"mark":{"type":"line","stroke":"#2a2a2a","strokeWidth":0.8,"clip":true},
      "encoding":{"x":{"field":"x","type":"quantitative","scale":{"domain":[-81.5,-79.6],"nice":false,"zero":false},"axis":{"orient":"top","values":[-81,-80],"labels":false}},
      "y":{"field":"y","type":"quantitative","scale":{"domain":[30,33],"nice":false,"zero":false},"axis":{"orient":"right","labels":false,"ticks":false}}}}
   ]},
  {"width":50.5,"height":338,"view":{"stroke":"#555"},
   "layer":[
    {"data":{"name":"bar"},"mark":{"type":"rect","clip":true},"encoding":{"x":{"datum":0,"type":"quantitative","scale":{"domain":[0,1]},"axis":null},"x2":{"datum":1},"y":{"field":"lo","type":"quantitative","scale":{"domain":[-5.65,5.65],"nice":false,"zero":false},"axis":{"orient":"right","values":[-5,0,5],"labelPadding":9,"domain":false}},"y2":{"field":"hi"},"fill":{"field":"b","type":"ordinal"}}},
    {"data":{"name":"xt"},"mark":{"type":"text","align":"left","baseline":"alphabetic","fontSize":25,"color":"#111"},"encoding":{"x":{"field":"u","type":"quantitative","scale":{"domain":[0,1]},"axis":null},"y":{"field":"v","type":"quantitative","scale":{"domain":[-5.65,5.65],"nice":false,"zero":false},"axis":{"orient":"right","values":[-5,0,5],"labelPadding":9,"domain":false}},"text":{"field":"t"}}},
    {"data":{"name":"xs"},"mark":{"type":"text","align":"left","baseline":"alphabetic","fontSize":17,"color":"#111"},"encoding":{"x":{"field":"u","type":"quantitative","scale":{"domain":[0,1]},"axis":null},"y":{"field":"v","type":"quantitative","scale":{"domain":[-5.65,5.65],"nice":false,"zero":false},"axis":{"orient":"right","values":[-5,0,5],"labelPadding":9,"domain":false}},"text":{"field":"t"}}}
   ]}
 ],"spacing":7.2}
],"spacing":85.8},
{"width":700,"height":60,
 "layer":[
  {"data":{"values":[{"t":"Simpson Bowers 1981","px":117,"py":38}]},"mark":{"type":"text","align":"left","baseline":"alphabetic","fontSize":25.5,"fontWeight":"bold","color":"#111"},"encoding":{"x":{"field":"px","type":"quantitative","scale":{"domain":[0,700]},"axis":null},"y":{"field":"py","type":"quantitative","scale":{"domain":[0,60],"reverse":true},"axis":null},"text":{"field":"t"}}},
  {"data":{"values":[{"t":"ε","px":398,"py":38},{"t":"= 0.004","px":427,"py":38},{"t":"ε","px":522,"py":38},{"t":"=0.02","px":547,"py":38}]},"mark":{"type":"text","align":"left","baseline":"alphabetic","fontSize":24,"fontWeight":"bold","color":"#111"},"encoding":{"x":{"field":"px","type":"quantitative","scale":{"domain":[0,700]},"axis":null},"y":{"field":"py","type":"quantitative","scale":{"domain":[0,60],"reverse":true},"axis":null},"text":{"field":"t"}}},
  {"data":{"values":[{"t":"b","px":414,"py":51},{"t":"s","px":535,"py":51}]},"mark":{"type":"text","align":"left","baseline":"alphabetic","fontSize":19,"fontWeight":"bold","color":"#111"},"encoding":{"x":{"field":"px","type":"quantitative","scale":{"domain":[0,700]},"axis":null},"y":{"field":"py","type":"quantitative","scale":{"domain":[0,60],"reverse":true},"axis":null},"text":{"field":"t"}}}
 ]},
{"hconcat":[
 {"bounds":"flush","hconcat":[
  {"width":221,"height":338,"title":{"text":"Work balance Jul-2003","fontSize":27.3},"resolve":{"axis":{"x":"independent","y":"independent"}},
   "encoding":{"x":{"field":"x","type":"quantitative","scale":{"domain":[-81.5,-79.6],"nice":false,"zero":false},"axis":null},"y":{"field":"y","type":"quantitative","scale":{"domain":[30,33],"nice":false,"zero":false},"axis":null},"order":{"value":null},"detail":{"field":"g"}},
   "layer":[
    {"data":{"name":"coast"},"mark":{"type":"line","strokeWidth":0,"clip":true},"encoding":{"fill":{"field":"b","type":"ordinal"},
      "x":{"field":"x","type":"quantitative","scale":{"domain":[-81.5,-79.6],"nice":false,"zero":false},"axis":{"orient":"bottom","values":[-81,-80],"labelPadding":13}},
      "y":{"field":"y","type":"quantitative","scale":{"domain":[30,33],"nice":false,"zero":false},"axis":{"orient":"left","values":[30,31,32,33],"labelPadding":9}}}},
    {"data":{"name":"jul"},"mark":{"type":"line","strokeWidth":0,"clip":true},"encoding":{"fill":{"field":"b","type":"ordinal"}}},
    {"data":{"name":"spots"},"mark":{"type":"line","strokeWidth":0,"clip":true},"encoding":{"fill":{"field":"b","type":"ordinal"}}},
    {"data":{"name":"lines"},"mark":{"type":"line","stroke":"#2a2a2a","strokeWidth":0.8,"clip":true}},
    {"data":{"name":"wjul"},"mark":{"type":"line","stroke":"#ffffff","strokeWidth":4.5,"clip":true}},
    {"data":{"name":"coast"},"mark":{"type":"line","stroke":"#2a2a2a","strokeWidth":0.8,"clip":true},
      "encoding":{"x":{"field":"x","type":"quantitative","scale":{"domain":[-81.5,-79.6],"nice":false,"zero":false},"axis":{"orient":"top","values":[-81,-80],"labels":false}},
      "y":{"field":"y","type":"quantitative","scale":{"domain":[30,33],"nice":false,"zero":false},"axis":{"orient":"right","labels":false,"ticks":false}}}}
   ]},
  {"width":50.5,"height":338,"view":{"stroke":"#555"},
   "layer":[
    {"data":{"name":"bar"},"mark":{"type":"rect","clip":true},"encoding":{"x":{"datum":0,"type":"quantitative","scale":{"domain":[0,1]},"axis":null},"x2":{"datum":1},"y":{"field":"lo","type":"quantitative","scale":{"domain":[-5.65,5.65],"nice":false,"zero":false},"axis":{"orient":"right","values":[-5,0,5],"labelPadding":9,"domain":false}},"y2":{"field":"hi"},"fill":{"field":"b","type":"ordinal"}}},
    {"data":{"name":"xt"},"mark":{"type":"text","align":"left","baseline":"alphabetic","fontSize":25,"color":"#111"},"encoding":{"x":{"field":"u","type":"quantitative","scale":{"domain":[0,1]},"axis":null},"y":{"field":"v","type":"quantitative","scale":{"domain":[-5.65,5.65],"nice":false,"zero":false},"axis":{"orient":"right","values":[-5,0,5],"labelPadding":9,"domain":false}},"text":{"field":"t"}}},
    {"data":{"name":"xs"},"mark":{"type":"text","align":"left","baseline":"alphabetic","fontSize":17,"color":"#111"},"encoding":{"x":{"field":"u","type":"quantitative","scale":{"domain":[0,1]},"axis":null},"y":{"field":"v","type":"quantitative","scale":{"domain":[-5.65,5.65],"nice":false,"zero":false},"axis":{"orient":"right","values":[-5,0,5],"labelPadding":9,"domain":false}},"text":{"field":"t"}}}
   ]}
 ],"spacing":7.2},
 {"bounds":"flush","hconcat":[
  {"width":221,"height":341,"title":"Work balance Oct-2003","resolve":{"axis":{"x":"independent","y":"independent"}},
   "encoding":{"x":{"field":"x","type":"quantitative","scale":{"domain":[-81.5,-79.6],"nice":false,"zero":false},"axis":null},"y":{"field":"y","type":"quantitative","scale":{"domain":[30,33],"nice":false,"zero":false},"axis":null},"order":{"value":null},"detail":{"field":"g"}},
   "layer":[
    {"data":{"name":"coast"},"mark":{"type":"line","strokeWidth":0,"clip":true},"encoding":{"fill":{"field":"b","type":"ordinal"},
      "x":{"field":"x","type":"quantitative","scale":{"domain":[-81.5,-79.6],"nice":false,"zero":false},"axis":{"orient":"bottom","values":[-81,-80],"labelPadding":13}},
      "y":{"field":"y","type":"quantitative","scale":{"domain":[30,33],"nice":false,"zero":false},"axis":{"orient":"left","values":[30,30.5,31,31.5,32,32.5,33],"labelPadding":9}}}},
    {"data":{"name":"oct"},"mark":{"type":"line","strokeWidth":0,"clip":true},"encoding":{"fill":{"field":"b","type":"ordinal"}}},
    {"data":{"name":"spots"},"mark":{"type":"line","strokeWidth":0,"clip":true},"encoding":{"fill":{"field":"b","type":"ordinal"}}},
    {"data":{"name":"lines"},"mark":{"type":"line","stroke":"#2a2a2a","strokeWidth":0.8,"clip":true}},
    {"data":{"name":"coast"},"mark":{"type":"line","stroke":"#2a2a2a","strokeWidth":0.8,"clip":true},
      "encoding":{"x":{"field":"x","type":"quantitative","scale":{"domain":[-81.5,-79.6],"nice":false,"zero":false},"axis":{"orient":"top","values":[-81,-80],"labels":false}},
      "y":{"field":"y","type":"quantitative","scale":{"domain":[30,33],"nice":false,"zero":false},"axis":{"orient":"right","labels":false,"ticks":false}}}}
   ]},
  {"width":50.5,"height":341,"view":{"stroke":"#555"},
   "layer":[
    {"data":{"name":"bar"},"mark":{"type":"rect","clip":true},"encoding":{"x":{"datum":0,"type":"quantitative","scale":{"domain":[0,1]},"axis":null},"x2":{"datum":1},"y":{"field":"lo","type":"quantitative","scale":{"domain":[-5.65,5.65],"nice":false,"zero":false},"axis":{"orient":"right","values":[-5,0,5],"labelPadding":9,"domain":false}},"y2":{"field":"hi"},"fill":{"field":"b","type":"ordinal"}}},
    {"data":{"name":"xt"},"mark":{"type":"text","align":"left","baseline":"alphabetic","fontSize":25,"color":"#111"},"encoding":{"x":{"field":"u","type":"quantitative","scale":{"domain":[0,1]},"axis":null},"y":{"field":"v","type":"quantitative","scale":{"domain":[-5.65,5.65],"nice":false,"zero":false},"axis":{"orient":"right","values":[-5,0,5],"labelPadding":9,"domain":false}},"text":{"field":"t"}}},
    {"data":{"name":"xs"},"mark":{"type":"text","align":"left","baseline":"alphabetic","fontSize":17,"color":"#111"},"encoding":{"x":{"field":"u","type":"quantitative","scale":{"domain":[0,1]},"axis":null},"y":{"field":"v","type":"quantitative","scale":{"domain":[-5.65,5.65],"nice":false,"zero":false},"axis":{"orient":"right","values":[-5,0,5],"labelPadding":9,"domain":false}},"text":{"field":"t"}}}
   ]}
 ],"spacing":7.2}
],"spacing":63.8}
],"spacing":9}
